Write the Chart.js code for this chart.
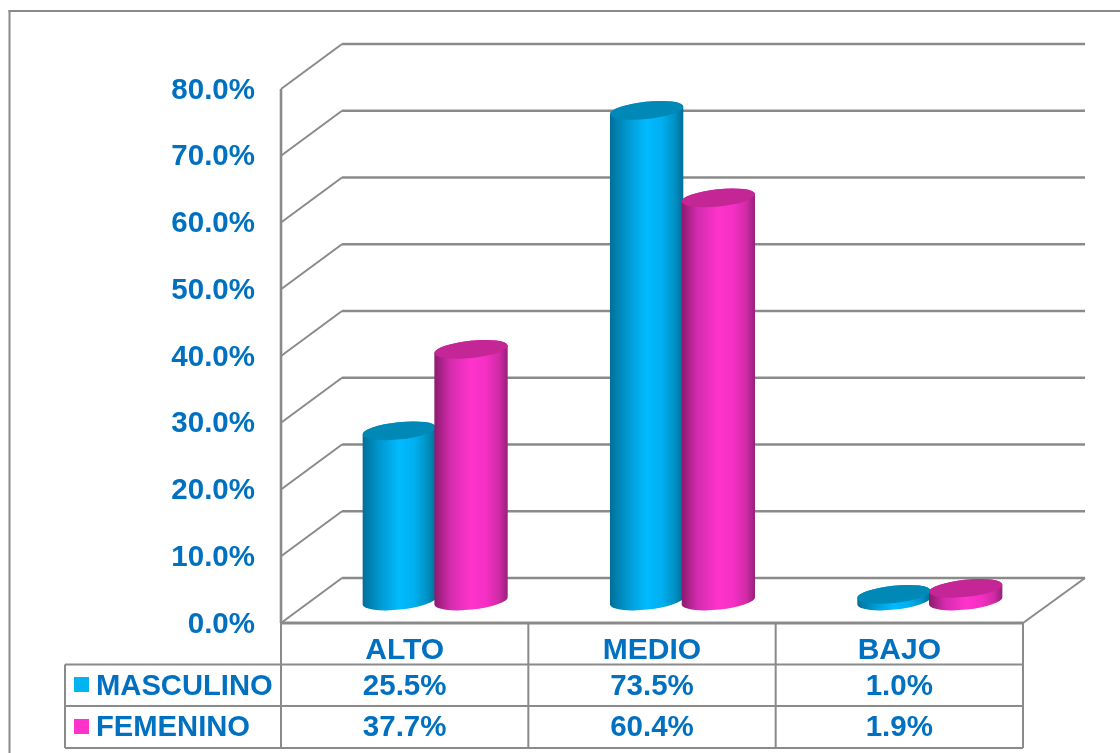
<!DOCTYPE html>
<html>
<head>
<meta charset="utf-8">
<style>html,body{margin:0;padding:0;background:#fff}canvas{display:block}</style>
<script src="https://cdn.jsdelivr.net/npm/chart.js@4/dist/chart.umd.js"></script>
</head>
<body>
<canvas id="c" width="1120" height="753"></canvas>
<script>
const categories = ['ALTO', 'MEDIO', 'BAJO'];
const masculino = [25.5, 73.5, 1.0];
const femenino = [37.7, 60.4, 1.9];
const seriesNames = ['MASCULINO', 'FEMENINO'];

const TEXT = '#0070C0', LINE = '#8A8A8A';
const FONT = '"Liberation Sans", Arial, sans-serif';
const DX = 61, DY = 45, BAR_DX = 30.5, BAR_DY = 22;
const TILT = -6 * Math.PI / 180, RY = 8.6;
const SKINS = [
  { key: '#00B4F0', top: '#0088B6',
    stops: ['#006F98', '#0096CC', '#00BBFF', '#00B0F0', '#0091C4', '#006E94'] },
  { key: '#FF33CC', top: '#C42696',
    stops: ['#8A1A6C', '#D42CAE', '#FF33CC', '#F530C4', '#D02BA6', '#96207A'] }
];
const STOP_AT = [0, 0.22, 0.5, 0.7, 0.88, 1];

function seg(ctx, x1, y1, x2, y2, w, color) {
  ctx.beginPath();
  ctx.moveTo(x1, y1);
  ctx.lineTo(x2, y2);
  ctx.lineWidth = w;
  ctx.strokeStyle = color || LINE;
  ctx.stroke();
}

const scene = {
  id: 'scene',
  beforeDatasetsDraw(chart) {
    const { ctx, chartArea: a, scales: { y } } = chart;
    ctx.save();
    ctx.lineCap = 'square';
    // outer frame
    seg(ctx, 9.5, 753, 9.5, 11, 2);
    seg(ctx, 9.5, 11, 1120, 11, 2);
    // walls
    y.ticks.forEach(t => {
      const py = y.getPixelForValue(t.value);
      ctx.lineCap = 'butt';
      seg(ctx, a.left, py, a.left + DX, py - DY, 2);
      seg(ctx, a.left + DX, py - DY, a.right + DX + 1, py - DY, t.value === 0 ? 2.6 : 2.4);
    });
    const y0 = y.getPixelForValue(0);
    seg(ctx, a.left, y.getPixelForValue(y.max), a.left, y0, 2.6);
    seg(ctx, a.right, y0, a.right + DX + 1, y0 - DY, 2);
    seg(ctx, a.left, y0, a.right, y0, 3);
    // data table grid
    const rows = [664.5, 706, 748];
    const colW = (a.right - a.left) / categories.length;
    seg(ctx, 65, rows[0], a.right, rows[0], 2);
    seg(ctx, 65, rows[1], a.right, rows[1], 2);
    seg(ctx, 65, rows[2], a.right, rows[2], 2);
    seg(ctx, 65, rows[0], 65, rows[2], 2);
    for (let i = 0; i <= categories.length; i++) {
      const px = a.left + colW * i;
      seg(ctx, px, y0, px, rows[2], 2);
    }
    ctx.restore();
  },
  afterDatasetsDraw(chart) {
    const { ctx } = chart;
    ctx.save();
    chart.data.datasets.forEach((ds, di) => {
      const skin = SKINS[di];
      chart.getDatasetMeta(di).data.forEach(el => {
        const rx = el.width / 2 + 1;
        const cx = el.x + BAR_DX;
        const yTop = el.y - BAR_DY, yBase = el.base - BAR_DY;
        const g = ctx.createLinearGradient(cx - rx, 0, cx + rx, 0);
        skin.stops.forEach((c, i) => g.addColorStop(STOP_AT[i], c));
        ctx.beginPath();
        ctx.ellipse(cx, yBase, rx, RY, TILT, 0, Math.PI, false);
        ctx.ellipse(cx, yTop, rx, RY, TILT, Math.PI, Math.PI * 2, false);
        ctx.closePath();
        ctx.fillStyle = g;
        ctx.fill();
        ctx.beginPath();
        ctx.ellipse(cx, yTop, rx, RY, TILT, 0, Math.PI * 2);
        ctx.fillStyle = skin.top;
        ctx.fill();
      });
    });
    // data table text
    const rowY = [687, 728];
    const keyY = [677, 719];
    ctx.textBaseline = 'middle';
    chart.data.datasets.forEach((ds, di) => {
      ctx.fillStyle = SKINS[di].key;
      ctx.fillRect(74, keyY[di], 15, 15);
      ctx.fillStyle = TEXT;
      ctx.textAlign = 'left';
      ctx.font = 'bold 29.2px ' + FONT;
      ctx.fillText(ds.label, 96, rowY[di]);
      ctx.textAlign = 'center';
      ctx.font = 'bold 29.5px ' + FONT;
      const xs = chart.scales.x;
      ds.data.forEach((v, i) => {
        ctx.fillText(v.toFixed(1) + '%', xs.getPixelForValue(i), rowY[di]);
      });
    });
    ctx.restore();
  }
};

new Chart(document.getElementById('c'), {
  type: 'bar',
  data: {
    labels: categories,
    datasets: [
      { label: seriesNames[0], data: masculino, backgroundColor: 'rgba(0,0,0,0)' },
      { label: seriesNames[1], data: femenino, backgroundColor: 'rgba(0,0,0,0)' }
    ]
  },
  options: {
    responsive: false,
    animation: false,
    categoryPercentage: 0.58,
    barPercentage: 1,
    layout: { padding: { top: 89, right: 97, left: 0, bottom: 0 } },
    plugins: { legend: { display: false }, tooltip: { enabled: false }, title: { display: false } },
    scales: {
      y: {
        min: 0, max: 80,
        afterFit(s) { s.width = 281; },
        grid: { display: false, drawTicks: false },
        border: { display: false },
        ticks: {
          stepSize: 10, padding: 26, labelOffset: 1.5,
          color: TEXT,
          font: { family: FONT, weight: 'bold', size: 29.5 },
          callback: v => v.toFixed(1) + '%'
        }
      },
      x: {
        afterFit(s) { s.height = 130; },
        grid: { display: false, drawTicks: false },
        border: { display: false },
        ticks: {
          padding: 10, color: TEXT, maxRotation: 0,
          font: { family: FONT, weight: 'bold', size: 30 }
        }
      }
    }
  },
  plugins: [scene]
});
</script>
</body>
</html>
